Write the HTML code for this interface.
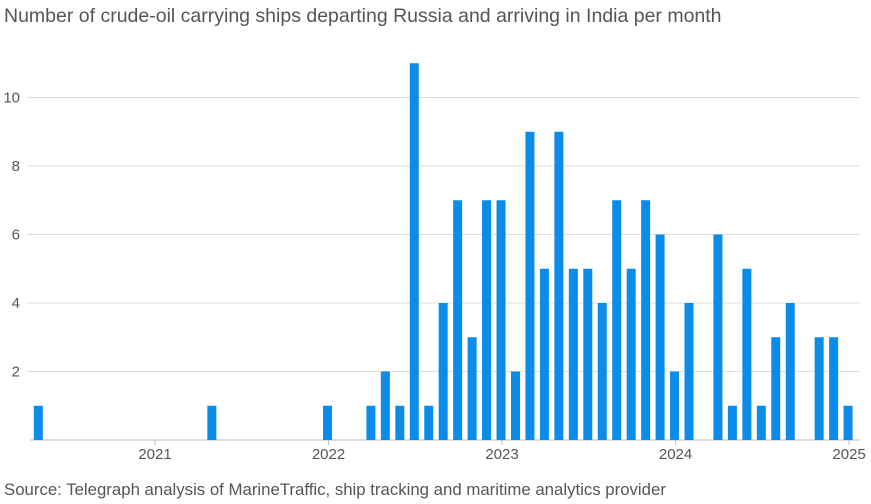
<!DOCTYPE html>
<html><head><meta charset="utf-8"><style>
body{margin:0;background:#fff;font-family:"Liberation Sans",sans-serif;}
#wrap{position:relative;width:871px;height:504px;overflow:hidden}
.title{position:absolute;left:4px;top:5px;font-size:19.5px;color:#555;white-space:nowrap}
.src{position:absolute;left:4px;top:480px;font-size:16.8px;color:#555;white-space:nowrap}
</style></head><body>
<div id="wrap">
<div class="title">Number of crude-oil carrying ships departing Russia and arriving in India per month</div>
<svg id="chart" width="871" height="504" style="position:absolute;left:0;top:0"></svg>
<div class="src">Source: Telegraph analysis of MarineTraffic, ship tracking and maritime analytics provider</div>
</div>
<script>
const months = ["2020-05","2020-06","2020-07","2020-08","2020-09","2020-10","2020-11","2020-12","2021-01","2021-02","2021-03","2021-04","2021-05","2021-06","2021-07","2021-08","2021-09","2021-10","2021-11","2021-12","2022-01","2022-02","2022-03","2022-04","2022-05","2022-06","2022-07","2022-08","2022-09","2022-10","2022-11","2022-12","2023-01","2023-02","2023-03","2023-04","2023-05","2023-06","2023-07","2023-08","2023-09","2023-10","2023-11","2023-12","2024-01","2024-02","2024-03","2024-04","2024-05","2024-06","2024-07","2024-08","2024-09","2024-10","2024-11","2024-12","2025-01"];
const ships = [1,0,0,0,0,0,0,0,0,0,0,0,1,0,0,0,0,0,0,0,1,0,0,1,2,1,11,1,4,7,3,7,7,2,9,5,9,5,5,4,7,5,7,6,2,4,0,6,1,5,1,3,4,0,3,3,1];
const yTicks = [2,4,6,8,10];
const xTickYears = [2021,2022,2023,2024,2025];
const NS="http://www.w3.org/2000/svg";
const svg=document.getElementById('chart');
const y0=440, pxPerUnit=34.25;
const y=v=>y0-v*pxPerUnit;
const monthW=14.46, x2021=155;
const xm=(yr,m)=>x2021+((yr-2021)*12+(m-1))*monthW;
function mk(t,a){const e=document.createElementNS(NS,t);for(const k in a)e.setAttribute(k,a[k]);svg.appendChild(e);return e;}
yTicks.forEach(v=>{
 const l=mk('line',{x1:27,x2:860,y1:y(v),y2:y(v),stroke:'#ddd','stroke-width':1});
 
 
 const t=mk('text',{x:20,y:y(v)+5,'font-size':15,fill:'#555','text-anchor':'end','font-family':'Liberation Sans, sans-serif'});
 t.textContent=v;
 
 
});
const base=mk('line',{x1:30,x2:860,y1:y0,y2:y0,stroke:'#bbb','stroke-width':1});


months.forEach((m,i)=>{
 const [yr,mo]=m.split('-').map(Number);
 const cx=xm(yr,mo)-1;
 const v=ships[i]; if(!v) return;
 const r=mk('rect',{x:cx-4.5,y:y(v),width:9,height:v*pxPerUnit,fill:'#0a8ce8'});
 
 
});
xTickYears.forEach(yr=>{
 const x=xm(yr,1);
 const tk=mk('line',{x1:x,x2:x,y1:y0,y2:y0+5,stroke:'#bbb'});
 
 
 const t=mk('text',{x:x,y:459,'font-size':15,fill:'#555','text-anchor':'middle','font-family':'Liberation Sans, sans-serif'});
 t.textContent=yr;
 
 
});
</script>
</body></html>
